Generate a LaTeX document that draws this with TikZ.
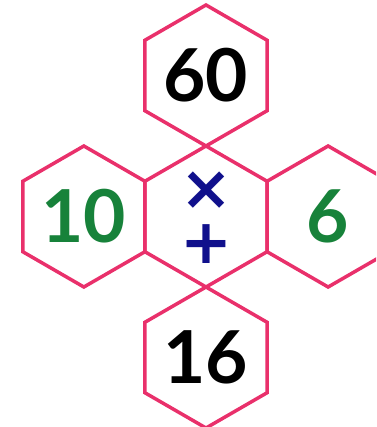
\documentclass[tikz,border=0pt]{standalone}
\usepackage{fontspec}
\setmainfont{Lato}
\newfontfamily\symfont{DejaVu Sans}
\usepackage{tikz}
\usetikzlibrary{positioning, shapes.geometric}
\definecolor{hexpink}{HTML}{E9306B}
\definecolor{numgreen}{HTML}{17823A}
\definecolor{opnavy}{HTML}{10108C}

\begin{document}
\begin{tikzpicture}[
    hexcell/.style={regular polygon, regular polygon sides=6,
      shape border rotate=30, minimum size=141pt, inner sep=0pt,
      outer sep=0pt, draw=hexpink, line width=3.5pt,
      font=\fontsize{73}{73}\selectfont\bfseries},
    opsign/.style={text=opnavy, inner sep=0pt, align=center,
      font=\symfont\bfseries\fontsize{62}{54}\selectfont},
    node distance=0pt
  ]
  \clip (-206pt,-210.5pt) rectangle (170pt,216.5pt);

  % middle cell and its four neighbours
  \node[hexcell] (mid) at (0,0) {};
  \node[hexcell, above=of mid] (top) {60};
  \node[hexcell, below=of mid] (bottom) {16};
  \node[hexcell, left=of mid, text=numgreen] (left) {10};
  \node[hexcell, right=of mid, text=numgreen] (right) {6};

  % operations
  \node[opsign] (ops) at ([yshift=-1.5pt]mid.center) {×\\+};
\end{tikzpicture}
\end{document}
